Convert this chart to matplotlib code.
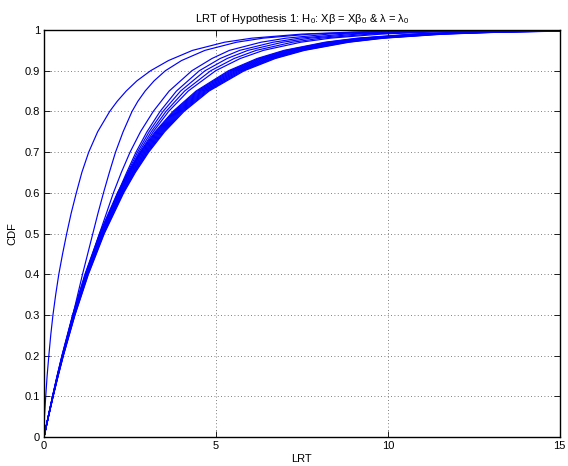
import matplotlib
matplotlib.use("Agg")
import matplotlib.pyplot as plt

plt.rcParams['font.family'] = ['Liberation Sans', 'DejaVu Sans']
plt.rcParams['mathtext.fontset'] = 'custom'
plt.rcParams['mathtext.rm'] = 'Liberation Sans'
plt.rcParams['mathtext.default'] = 'regular'

# the two leftmost curves are sampled on a finer set of CDF levels
cdf_fine = [0, 0.025, 0.05, 0.1, 0.15, 0.2, 0.25, 0.3, 0.35, 0.4, 0.45, 0.5, 0.55, 0.6, 0.65,
            0.7, 0.75, 0.8, 0.825, 0.85, 0.875, 0.9, 0.925, 0.95, 0.97, 0.98, 0.99, 0.995, 0.998, 1.0]

lrt_a = [0, 0.004, 0.012, 0.05, 0.09, 0.14, 0.195, 0.26, 0.34, 0.43, 0.54, 0.66, 0.79, 0.94, 1.10,
         1.30, 1.56, 1.91, 2.13, 2.39, 2.70, 3.10, 3.62, 4.32, 5.25, 6.05, 7.50, 9.0, 10.8, 13.5]
lrt_b = [0, 0.065, 0.13, 0.26, 0.40, 0.55, 0.69, 0.84, 0.98, 1.12, 1.27, 1.42, 1.57, 1.73, 1.90,
         2.08, 2.30, 2.56, 2.73, 2.94, 3.20, 3.53, 4.00, 4.68, 5.60, 6.37, 7.76, 9.22, 11.2, 13.8]

# CDF levels shared by the remaining curves, and the LRT value reached at each level
cdf_levels = [0, 0.025, 0.05, 0.1, 0.15, 0.2, 0.3, 0.4, 0.5, 0.6, 0.65, 0.7, 0.75,
              0.8, 0.85, 0.9, 0.93, 0.95, 0.97, 0.98, 0.99, 0.995, 0.998, 1.0]

lrt_c = [0, 0.061, 0.124, 0.255, 0.393, 0.540, 0.863, 1.220, 1.613, 2.019, 2.248, 2.503, 2.805,
         3.177, 3.639, 4.301, 4.885, 5.392, 6.312, 7.042, 8.289, 9.537, 11.186, 13.5]
lrt_d = [0, 0.061, 0.124, 0.255, 0.393, 0.540, 0.863, 1.236, 1.677, 2.146, 2.404, 2.675, 2.994,
         3.376, 3.851, 4.518, 5.122, 5.692, 6.663, 7.433, 8.750, 10.067, 11.808, 14.0]
lrt_e = [0, 0.061, 0.125, 0.256, 0.395, 0.542, 0.867, 1.241, 1.684, 2.165, 2.433, 2.720, 3.057,
         3.462, 3.971, 4.684, 5.326, 5.931, 6.943, 7.746, 9.118, 10.491, 12.305, 14.2]
lrt_f = [0, 0.062, 0.125, 0.257, 0.397, 0.544, 0.870, 1.246, 1.691, 2.184, 2.462, 2.764, 3.119,
         3.547, 4.088, 4.849, 5.529, 6.171, 7.224, 8.059, 9.487, 10.915, 12.802, 14.4]
lrt_g = [0, 0.062, 0.126, 0.258, 0.398, 0.547, 0.874, 1.251, 1.698, 2.201, 2.488, 2.803, 3.175,
         3.624, 4.193, 4.992, 5.707, 6.381, 7.469, 8.333, 9.809, 11.285, 13.237, 14.6]

# the tight group of curves underneath
bundle_lrt = [
    [0, 0.059, 0.120, 0.246, 0.379, 0.520, 0.831, 1.190, 1.615, 2.135, 2.446, 2.805, 3.230,
     3.750, 4.420, 5.365, 6.196, 6.980, 8.170, 9.115, 10.730, 12.345, 14.480, 16.0],
    [0, 0.059, 0.121, 0.248, 0.382, 0.524, 0.838, 1.200, 1.629, 2.153, 2.467, 2.829, 3.258,
     3.782, 4.458, 5.411, 6.249, 7.040, 8.240, 9.193, 10.822, 12.451, 14.604, 16.0],
    [0, 0.060, 0.122, 0.250, 0.385, 0.529, 0.845, 1.211, 1.643, 2.172, 2.488, 2.853, 3.286,
     3.814, 4.496, 5.457, 6.303, 7.100, 8.311, 9.271, 10.914, 12.557, 14.729, 16.0],
    [0, 0.060, 0.123, 0.252, 0.388, 0.533, 0.852, 1.221, 1.656, 2.190, 2.509, 2.877, 3.313,
     3.846, 4.534, 5.503, 6.356, 7.160, 8.381, 9.349, 11.006, 12.663, 14.853, 16.0],
    [0, 0.061, 0.124, 0.254, 0.392, 0.538, 0.860, 1.231, 1.670, 2.208, 2.530, 2.902, 3.341,
     3.879, 4.572, 5.549, 6.409, 7.220, 8.451, 9.428, 11.099, 12.769, 14.977, 16.0],
    [0, 0.061, 0.125, 0.256, 0.395, 0.542, 0.867, 1.241, 1.684, 2.226, 2.551, 2.926, 3.368,
     3.911, 4.610, 5.595, 6.462, 7.279, 8.521, 9.506, 11.191, 12.875, 15.101, 16.0],
    [0, 0.062, 0.126, 0.258, 0.398, 0.547, 0.874, 1.251, 1.698, 2.245, 2.572, 2.950, 3.396,
     3.943, 4.648, 5.641, 6.515, 7.339, 8.591, 9.584, 11.283, 12.981, 15.226, 16.0],
    [0, 0.062, 0.127, 0.260, 0.401, 0.551, 0.881, 1.261, 1.712, 2.263, 2.593, 2.974, 3.424,
     3.975, 4.686, 5.687, 6.568, 7.399, 8.661, 9.662, 11.375, 13.087, 15.350, 16.0],
    [0, 0.063, 0.128, 0.262, 0.405, 0.556, 0.888, 1.272, 1.726, 2.282, 2.614, 2.998, 3.452,
     4.007, 4.724, 5.733, 6.622, 7.459, 8.731, 9.741, 11.467, 13.193, 15.474, 16.0],
    [0, 0.063, 0.129, 0.264, 0.408, 0.560, 0.895, 1.282, 1.740, 2.300, 2.635, 3.022, 3.480,
     4.040, 4.762, 5.780, 6.675, 7.519, 8.802, 9.819, 11.559, 13.299, 15.599, 16.0],
    [0, 0.064, 0.130, 0.267, 0.411, 0.564, 0.902, 1.292, 1.754, 2.318, 2.656, 3.046, 3.507,
     4.072, 4.800, 5.826, 6.728, 7.579, 8.872, 9.897, 11.651, 13.405, 15.723, 16.0],
]

curves = [lrt_c, lrt_d, lrt_e, lrt_f, lrt_g] + bundle_lrt

x_ticks = [0, 5, 10, 15]
y_ticks = [0, 0.1, 0.2, 0.3, 0.4, 0.5, 0.6, 0.7, 0.8, 0.9, 1]
y_labels = ['0', '0.1', '0.2', '0.3', '0.4', '0.5', '0.6', '0.7', '0.8', '0.9', '1']

fig = plt.figure(figsize=(5.68, 4.66), dpi=100)
ax = fig.add_axes([0.0775, 0.0622, 0.908, 0.8734])

ax.plot(lrt_a, cdf_fine, color='#0000ff', linewidth=0.85)
ax.plot(lrt_b, cdf_fine, color='#0000ff', linewidth=0.85)
for c in curves:
    ax.plot(c, cdf_levels, color='#0000ff', linewidth=0.85)

ax.set_xlim(0, 15)
ax.set_ylim(0, 1)
ax.set_xticks(x_ticks)
ax.set_xticklabels([str(t) for t in x_ticks])
ax.set_yticks(y_ticks)
ax.set_yticklabels(y_labels)
ax.tick_params(direction='in', top=True, right=True, labelsize=8, length=4, width=0.6, pad=3)
ax.grid(True, linestyle=(0, (1, 3)), color='#555555', linewidth=0.6)
for s in ax.spines.values():
    s.set_linewidth(1.0)

ax.set_xlabel('LRT', fontsize=8, labelpad=2)
ax.set_ylabel('CDF', fontsize=8, labelpad=5)
ax.set_title(r'LRT of Hypothesis 1: H$_0$: Xβ = Xβ$_0$ & λ = λ$_0$', fontsize=8, pad=6)

fig.savefig('out.png', dpi=100)
